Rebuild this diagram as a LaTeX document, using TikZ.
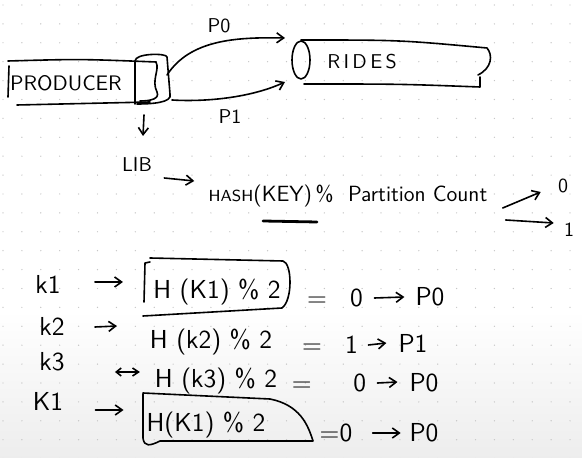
\documentclass[tikz,border=0pt]{standalone}
\usepackage{tikz}
\usetikzlibrary{arrows.meta, positioning}

\begin{document}
\begin{tikzpicture}[
    x=0.5pt, y=-0.5pt,
    every node/.style={font=\sffamily},
    ink/.style={line width=0.8pt, line cap=round, line join=round},
    arrow/.style={ink, -{Straight Barb[length=3.5pt,width=5pt]}},
    hand/.style={font=\sffamily\fontsize{10}{12}\selectfont, inner sep=1pt},
    calc/.style={font=\sffamily\fontsize{13}{15}\selectfont, inner sep=1pt}
  ]
  \useasboundingbox (0,0) rectangle (582,458);

  % board
  \shade[top color=white, bottom color=gray!14] (0,310) rectangle (582,458);
  \foreach \i in {0,...,30}
    \foreach \j in {0,...,24}
      \fill[gray!45] (3+\i*18.9, 5+\j*18.9) circle (0.35pt);

  % producer log
  \node[hand, font=\sffamily\fontsize{10.5}{12}\selectfont] (producer) at (66,83) {PRODUCER};
  \draw[ink] (9,66) -- (8,97);
  \draw[ink] (8,61) .. controls (80,59) .. (156,62);
  \draw[ink] (17,105) -- (150,102);
  \draw[ink] (135,104) -- (135,61) .. controls (135,53) and (167,53) .. (167,57)
    -- (170,94) .. controls (173,103) and (150,104) .. (137,104);
  \draw[ink] (156,62) .. controls (160,70) and (151,80) .. (157,92)
    .. controls (160,99) and (150,101) .. (140,101);
  \coordinate (out0) at (167,75);
  \coordinate (out1) at (172,100);
  \coordinate (libtap) at (144,115);

  % topic
  \node[hand] (rides) at (362,62) {R\,I\,D\,E\,S};
  \draw[ink] (301,60) ellipse [x radius=9, y radius=19];
  \draw[ink] (301,40) .. controls (400,40) .. (487,48)
    .. controls (493,55) and (492,68) .. (478,75);
  \draw[ink] (304,84) .. controls (400,84) .. (480,87) -- (480,77);
  \coordinate (in0) at (285,38);
  \coordinate (in1) at (285,82);

  \draw[arrow] (out0) .. controls (190,40) and (235,37) .. (in0);
  \draw[arrow] (out1) .. controls (205,102) and (250,98) .. (in1);
  \node[hand] (p0) at (219,26) {P0};
  \node[hand] (p1) at (230,117) {P1};

  % library
  \node[hand] (lib) at (137,165) {LIB};
  \draw[arrow] (libtap) -- (143,136);
  \node[hand, font=\sffamily\fontsize{11}{13}\selectfont] (hash) at (348,196)
    {{\fontsize{8}{10}\selectfont HASH}(KEY)\,\% \ Partition Count};
  \draw[arrow] (lib.east) ++(10,13) -- +(30,3);
  \draw[ink, line width=1.4pt] (263,221) -- (317,222);
  \node[hand] (zero) at (563,186) {0};
  \node[hand] (one) at (569,230) {1};
  \draw[arrow] (hash.east) ++(13,12) -- +(38,-16);
  \draw[arrow] (hash.east) ++(16,24) -- +(48,3);

  % key rows
  \node[calc] (ka) at (48,284) {k1};
  \node[calc] (ha) at (217,292) {H (K1) \% 2};
  \node[calc] (ea) at (335,298) {=\hspace{0.9em}0};
  \node[calc] (pa) at (430,297) {P0};
  \draw[ink] (150,258) -- (283,261) .. controls (292,263) and (293,300) .. (282,308)
    -- (143,316);
  \draw[ink] (150,262) -- (145,263) -- (144,302);

  \node[calc] (kb) at (52,326) {k2};
  \node[calc] (hb) at (211,342) {H (k2) \% 2};
  \node[calc] (eb) at (330,345) {=\hspace{0.9em}1};
  \node[calc] (pb) at (413,343) {P1};

  \node[calc] (kc) at (52,362) {k3};
  \node[calc] (hc) at (216,381) {H (k3) \% 2};
  \node[calc] (ec) at (329,383) {=\hspace{1.6em}0};
  \node[calc] (pc) at (424,383) {P0};

  \node[calc] (kd) at (48,401) {K1};
  \node[calc] (hd) at (206,425) {H(K1) \% 2};
  \node[calc] (ed) at (336,433) {=0};
  \node[calc] (pd) at (424,433) {P0};
  \draw[ink] (143,394) -- (143,438) .. controls (144,447) and (150,446) .. (160,441)
    -- (313,441) .. controls (308,425) and (300,405) .. (270,399) -- (143,393);

  \draw[arrow] (ka.east) ++(32,-2) -- +(28,0);
  \draw[arrow] (kb.east) ++(28,1) -- +(22,-1);
  \draw[{Straight Barb[length=2.5pt,width=4pt]}-{Straight Barb[length=3pt,width=4pt]}, ink]
    (kc.east) ++(48,10) -- +(25,0);
  \draw[arrow] (kd.east) ++(30,9) -- +(28,0);
  \draw[arrow] (ea.east) ++(9,0) -- +(30,-1);
  \draw[arrow] (eb.east) ++(8,0) -- +(18,-2);
  \draw[arrow] (ec.east) ++(9,0) -- +(20,-1);
  \draw[arrow] (ed.east) ++(18,0) -- +(28,0);
\end{tikzpicture}
\end{document}
